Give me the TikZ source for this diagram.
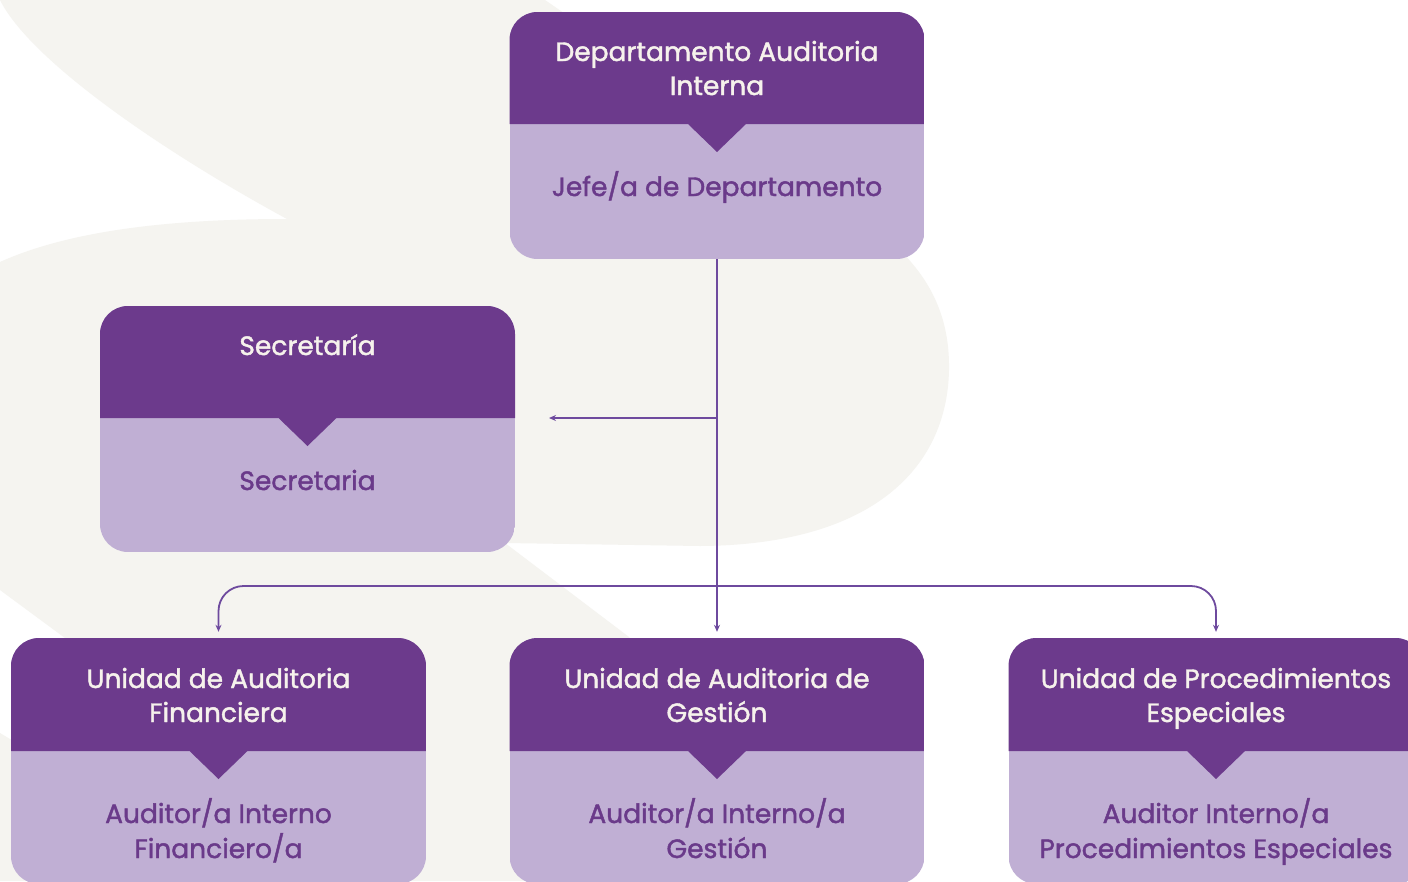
\documentclass[tikz,border=0pt]{standalone}
\usepackage{fontspec}
\setmainfont{Poppins}[FakeBold=1.6]
\usetikzlibrary{arrows.meta}
\definecolor{headc}{HTML}{6C3A8C}
\definecolor{bodyc}{HTML}{C0AFD4}
\definecolor{bgc}{HTML}{F5F4F0}
\definecolor{linec}{HTML}{6E4A9E}
\definecolor{headtxt}{HTML}{F6F2EC}
\definecolor{bodytxt}{HTML}{6A3A8A}
\tikzset{
  htxt/.style={anchor=base, inner sep=0pt, text=headtxt, font=\fontsize{26.5}{32}\selectfont},
  btxt/.style={anchor=base, inner sep=0pt, text=bodytxt, font=\fontsize{26.5}{32}\selectfont},
  boxanchor/.style={rectangle, inner sep=0pt, minimum width=415pt},
  conn/.style={draw=linec, line width=1.8pt, -{Stealth[length=7pt,width=6pt]}},
}
% #1 name, #2 cx, #3 top, #4 header bottom, #5 bottom
\newcommand\orgshape[5]{%
  \begin{scope}
    \clip[rounded corners=28pt] (#2-207.5,#3) rectangle (#2+207.5,#5);
    \fill[bodyc] (#2-207.5,#3) rectangle (#2+207.5,#5);
    \fill[headc] (#2-207.5,#3) -- (#2+207.5,#3) -- (#2+207.5,#4) -- (#2+29,#4)
      -- (#2,#4+28) -- (#2-29,#4) -- (#2-207.5,#4) -- cycle;
  \end{scope}
  \node[boxanchor, minimum height={(#5-#3)*1pt}] (#1) at (#2,{(#3+#5)/2}) {};
}
\begin{document}
\begin{tikzpicture}[x=1pt,y=-1pt]
\useasboundingbox (0,0) rectangle (1408,881);
\fill[white] (0,0) rectangle (1408,881);
% background shape
\fill[bgc] (0,0) -- (545,0) -- (870,225)
  .. controls (925,265) and (950,310) .. (949,370)
  .. controls (947,470) and (870,545) .. (700,546)
  -- (505,543) -- (629,637) -- (860,881) -- (394,881) -- (65,638) -- (0,590)
  -- (0,262) .. controls (60,235) and (150,219) .. (287,219)
  .. controls (160,150) and (30,60) .. (0,0) -- cycle;
\fill[bgc] (0,733) -- (247,881) -- (0,881) -- cycle;

% boxes
\orgshape{dep}{717}{12}{124}{259}
\orgshape{sec}{307.5}{306}{418}{552}
\orgshape{fin}{218.5}{638}{751}{884}
\orgshape{ges}{717}{638}{751}{884}
\orgshape{pro}{1216}{638}{751}{884}

% texts
\node[htxt] (depH1) at (717,61) {Departamento Auditoria};
\node[htxt] (depH2) at (717,95) {Interna};
\node[btxt] (depB1) at (717,196) {Jefe/a de Departamento};

\node[htxt] (secH1) at (307.5,355) {Secretaría};
\node[btxt] (secB1) at (307.5,490) {Secretaria};

\node[htxt] (finH1) at (218.5,688) {Unidad de Auditoria};
\node[htxt] (finH2) at (218.5,722) {Financiera};
\node[btxt] (finB1) at (218.5,823) {Auditor/a Interno};
\node[btxt] (finB2) at (218.5,858) {Financiero/a};

\node[htxt] (gesH1) at (717,688) {Unidad de Auditoria de};
\node[htxt] (gesH2) at (717,722) {Gestión};
\node[btxt] (gesB1) at (717,823) {Auditor/a Interno/a};
\node[btxt] (gesB2) at (717,858) {Gestión};

\node[htxt] (proH1) at (1216,688) {Unidad de Procedimientos};
\node[htxt] (proH2) at (1216,722) {Especiales};
\node[btxt] (proB1) at (1216,823) {Auditor Interno/a};
\node[btxt] (proB2) at (1216,858) {Procedimientos Especiales};

% connectors
\coordinate (jsec) at (717,418);
\coordinate (secend) at (549,418);
\coordinate (jbr) at (717,586);
\draw[conn, shorten >=6pt] (dep.south) -- (ges.north);
\draw[conn] (jsec) -- (secend);
\draw[conn, rounded corners=25pt, shorten >=6pt] (jbr) -| (fin.north);
\draw[conn, rounded corners=25pt, shorten >=6pt] (jbr) -| (pro.north);
\end{tikzpicture}
\end{document}
